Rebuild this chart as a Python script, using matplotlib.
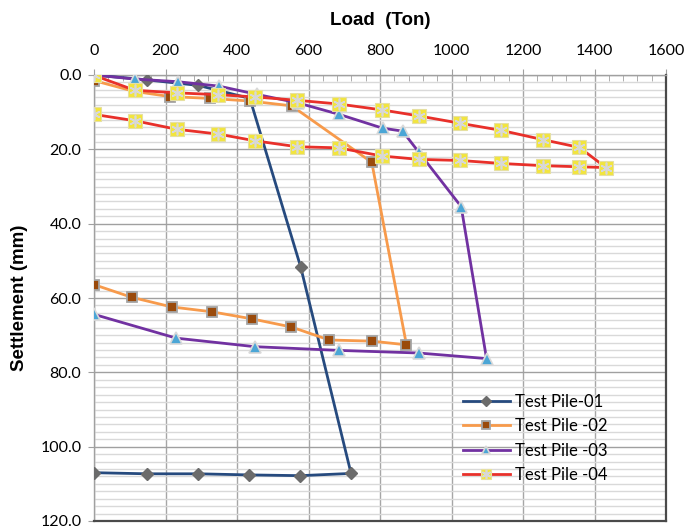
import matplotlib
matplotlib.use("Agg")
import matplotlib.pyplot as plt
from matplotlib.ticker import MultipleLocator, FormatStrFormatter
from matplotlib.legend_handler import HandlerTuple

# Load (Ton) vs settlement (mm), loading then unloading branches
pile1_load = [0, 147, 292, 436, 578, 719, 577, 434, 291, 149, 0]
pile1_settle = [0.0, 1.3, 2.8, 6.3, 51.6, 107.2, 107.8, 107.6, 107.3, 107.3, 107.0]

pile2_load = [0, 112, 212, 325, 436, 553, 777, 874, 777, 658, 552, 441, 329, 217, 105, 0]
pile2_settle = [1.5, 4.4, 5.8, 6.3, 7.0, 8.3, 23.5, 72.6, 71.6, 71.3, 67.8, 65.6, 63.7, 62.4, 59.8, 56.4]

pile3_load = [0, 115, 234, 350, 455, 570, 686, 807, 863, 908, 1027, 1098, 908, 686, 450, 230, 0]
pile3_settle = [0.0, 1.1, 1.8, 3.0, 5.2, 7.5, 10.6, 14.3, 15.1, 20.7, 35.4, 76.3, 74.8, 74.1, 73.1, 70.8, 64.4]

pile4_load = [0, 114, 231, 348, 450, 568, 684, 806, 908, 1025, 1139, 1256, 1358, 1432,
              1358, 1256, 1139, 1025, 908, 806, 684, 568, 450, 348, 231, 114, 0]
pile4_settle = [0.1, 4.1, 4.8, 5.3, 5.9, 6.8, 7.8, 9.4, 11.0, 13.0, 14.9, 17.4, 19.5, 24.9,
                24.7, 24.4, 23.8, 23.0, 22.7, 21.8, 19.6, 19.3, 17.7, 15.9, 14.6, 12.3, 10.6]

labels = ["Test Pile-01", "Test Pile -02", "Test Pile -03", "Test Pile -04"]

plt.rcParams["font.family"] = ["Lato", "DejaVu Sans"]

fig = plt.figure(figsize=(6.87, 5.30), dpi=100)
ax = fig.add_axes([94 / 687, 1 - 521 / 530, 572 / 687, 446 / 530])

lw = 2.0
h1, = ax.plot(pile1_load, pile1_settle, color="#264A7E", lw=lw, marker="D",
              ms=6.5, mfc="#6B6B6B", mec="#6B6B6B", zorder=3)
h2, = ax.plot(pile2_load, pile2_settle, color="#F79A4B", lw=lw, marker="s",
              ms=7.5, mfc="#9A4A0B", mec="#A5A5A5", mew=1.3, zorder=4)
h3, = ax.plot(pile3_load, pile3_settle, color="#7131A1", lw=lw, marker="^",
              ms=8, mfc="#4BA6D6", mec="#D9D9D9", mew=1.2, zorder=5)
h4, = ax.plot(pile4_load, pile4_settle, color="#E8302A", lw=lw, marker="s",
              ms=9.5, mfc="#F2E53D", mec="#E6E0A0", mew=0.8, zorder=6)
h4x, = ax.plot(pile4_load, pile4_settle, ls="none", marker=(6, 2, 0),
               ms=8.5, mec="#D8D8D8", mew=1.2, zorder=7)

ax.set_xlim(0, 1600)
ax.set_ylim(120, 0)

ax.xaxis.tick_top()
ax.xaxis.set_label_position("top")
ax.xaxis.set_major_locator(MultipleLocator(200))
ax.xaxis.set_minor_locator(MultipleLocator(40))
ax.yaxis.set_major_locator(MultipleLocator(20))
ax.yaxis.set_minor_locator(MultipleLocator(2))
ax.yaxis.set_major_formatter(FormatStrFormatter("%.1f"))

ax.tick_params(axis="x", which="major", direction="out", length=4,
               color="#A0A0A0", labelsize=11.5, pad=8)
ax.tick_params(axis="x", which="minor", direction="in", length=4,
               color="#A0A0A0")
ax.tick_params(axis="y", which="major", direction="out", length=4,
               color="#A0A0A0", labelsize=11.5, pad=5)
ax.tick_params(axis="y", which="minor", length=0)

ax.grid(axis="x", which="major", color="#A6A6A6", lw=1.0, zorder=0)
ax.grid(axis="y", which="major", color="#A0A0A0", lw=1.0, zorder=0)
ax.grid(axis="y", which="minor", color="#D9D9D9", lw=1.0, zorder=0)
ax.set_axisbelow(True)

for side in ("left", "top"):
    ax.spines[side].set_color("#A0A0A0")
    ax.spines[side].set_linewidth(1.0)
for side in ("right", "bottom"):
    ax.spines[side].set_color("#4A4A4A")
    ax.spines[side].set_linewidth(1.6)

ax.set_xlabel("Load  (Ton)", fontsize=13.5, fontweight="bold",
              family=["Liberation Sans", "DejaVu Sans"], labelpad=14)
ax.set_ylabel("Settlement (mm)", fontsize=13.5, fontweight="bold",
              family=["Liberation Sans", "DejaVu Sans"], labelpad=9)

leg = ax.legend([h1, h2, h3, (h4, h4x)], labels,
                handler_map={tuple: HandlerTuple(ndivide=1, pad=0)},
                numpoints=1, markerscale=0.8,
                loc="upper left", bbox_to_anchor=(0.645, 0.285),
                frameon=False, fontsize=12, handlelength=2.8,
                handletextpad=0.3, labelspacing=0.5, borderaxespad=0,
                borderpad=0)

fig.savefig("out.png", dpi=100)
